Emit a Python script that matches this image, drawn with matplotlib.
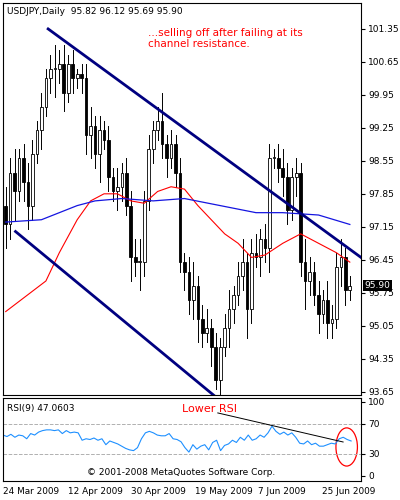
import matplotlib
matplotlib.use("Agg")
import matplotlib.pyplot as plt
from matplotlib.patches import Ellipse, Rectangle

closes = [97.2,98.3,97.9,98.6,98.1,97.6,98.7,99.2,99.7,100.3,100.5,100.5,100.6,100.0,100.6,100.3,100.4,
          100.3,99.1,99.3,98.7,99.2,99.0,98.2,97.9,98.0,98.3,97.6,96.5,96.4,96.4,97.7,98.8,99.2,99.4,98.9,98.6,
          98.9,98.3,96.4,96.2,95.6,95.9,95.2,94.9,95.0,94.6,93.9,94.6,95.0,95.4,95.7,96.1,96.4,95.4,96.6,96.5,
          96.9,96.7,98.6,98.6,98.4,98.2,97.5,98.2,98.3,96.4,96.0,96.2,95.7,95.3,95.6,95.1,95.2,96.3,96.5,95.8,95.9]
opens = [97.6] + closes[:-1]
up_wick = [0.4,0.3,0.5,0.2,0.3,0.4,0.3,0.2,0.3,0.2,0.3,0.5,0.3,0.4,0.2,0.3,0.1,0.2,0.3,0.4,0.2,0.3,0.2,
           0.3,0.2,0.4,0.2,0.3,0.3,0.4,0.5,0.2,0.3,0.2,0.3,0.6,0.2,0.3,0.2,0.3,0.2,0.3,0.5,0.2,0.3,0.4,0.2,0.3,
           0.2,0.3,0.4,0.2,0.3,0.5,0.2,0.3,0.4,0.2,0.3,0.3,0.2,0.3,0.4,0.3,0.2,0.3,0.2,0.5,0.3,0.2,0.3,0.2,0.4,
           0.3,0.3,0.4,0.2,0.2]
dn_wick = [0.5,0.3,0.6,0.2,0.4,0.5,0.3,0.2,0.4,0.2,0.3,0.6,0.3,0.4,0.2,0.3,0.2,0.3,0.4,0.5,0.3,0.6,0.2,
           0.3,0.2,0.4,0.3,0.2,0.5,0.3,0.6,0.3,0.2,0.3,0.2,0.3,0.4,0.2,0.3,0.2,0.4,0.3,0.4,0.5,0.3,0.2,0.4,0.2,
           0.3,0.2,0.4,0.3,0.2,0.3,0.6,0.3,0.2,0.4,0.3,0.5,0.2,0.3,0.4,0.3,0.2,0.4,0.3,0.6,0.3,0.2,0.4,0.2,0.3,
           0.3,0.2,0.4,0.3,0.2]

ma_fast_x = [0,9,12,16,19,22,25,28,31,34,37,40,43,46,49,52,55,58,62,66,70,74,77]
ma_fast = [95.35,96.0,96.6,97.3,97.7,97.85,97.85,97.7,97.65,97.9,98.0,97.95,97.6,97.3,97.0,96.8,96.5,96.55,96.8,97.0,96.8,96.6,96.4]
ma_slow_x = [0,8,16,20,26,33,40,48,56,62,70,77]
ma_slow = [97.25,97.3,97.6,97.7,97.75,97.7,97.75,97.6,97.45,97.45,97.4,97.2]

rsi = [55,53,56,52,55,54,50,57,55,59,61,62,62,61,62,57,61,58,59,58,48,50,49,51,48,50,42,47,45,43,40,37,35,34,
       38,50,58,60,58,55,54,54,57,50,49,46,38,32,42,36,40,42,35,45,48,34,41,43,48,45,52,48,55,48,50,55,52,58,
       67,60,56,59,55,58,52,44,43,47,42,44,40,40,42,44,43,50,52,49,47]

price_ticks = [101.35,100.65,99.95,99.25,98.55,97.85,97.15,96.45,95.75,95.05,94.35,93.65]
rsi_ticks = [100,70,30,0]
date_labels = ["24 Mar 2009","12 Apr 2009","30 Apr 2009","19 May 2009","7 Jun 2009","25 Jun 2009"]

n = len(closes)
fig = plt.figure(figsize=(4,5), dpi=100)
fig.patch.set_facecolor("white")
ax = fig.add_axes([0.0075, 0.21, 0.895, 0.784])
ax.set_xlim(-0.6, n + 1.5)
ax.set_ylim(93.58, 101.90)
for i,(o,c) in enumerate(zip(opens,closes)):
    hi = max(o,c)+up_wick[i]; lo = min(o,c)-dn_wick[i]
    ax.plot([i,i],[lo,hi],color="black",lw=0.7,zorder=2)
    face = "white" if c>=o else "black"
    ax.add_patch(Rectangle((i-0.3,min(o,c)),0.6,max(abs(c-o),0.03),facecolor=face,edgecolor="black",lw=0.6,zorder=3))
ax.plot(ma_fast_x, ma_fast, color="red", lw=0.8, zorder=4)
ax.plot(ma_slow_x, ma_slow, color="#1515e0", lw=0.9, zorder=4)
ax.plot([9.5, 79.5], [101.35, 96.5], color="#000080", lw=2, zorder=5)
ax.plot([2.2, 47.5], [97.05, 93.5], color="#000080", lw=2, zorder=5)
ax.set_xticks([]); ax.yaxis.tick_right()
ax.set_yticks(price_ticks)
ax.set_yticklabels([f"{t:.2f}" for t in price_ticks], fontsize=6.5)
ax.tick_params(axis="y", length=3, pad=2)
ax.text(0.01,0.99,"USDJPY,Daily  95.82 96.12 95.69 95.90",transform=ax.transAxes,fontsize=6.5,va="top")
ax.text(0.405,0.935,"...selling off after failing at its\nchannel resistance.",transform=ax.transAxes,
        color="red",fontsize=7.5,va="top",linespacing=1.1)
ax.text(1.01, 95.90, "95.90", transform=ax.get_yaxis_transform(), fontsize=6.5, color="white",
        va="center", ha="left", bbox=dict(facecolor="black", edgecolor="none", pad=0.8), zorder=10)

ax2 = fig.add_axes([0.0075, 0.038, 0.895, 0.166])
ax2.set_xlim(0, len(rsi)+1.5)
ax2.set_ylim(-7, 105)
ax2.plot(range(len(rsi)), rsi, color="#1e90ff", lw=0.8)
for lv in (70,30):
    ax2.axhline(lv, color="#b0b0b0", ls="--", lw=0.7)
ax2.set_xticks([]); ax2.yaxis.tick_right()
ax2.set_yticks(rsi_ticks); ax2.set_yticklabels([str(t) for t in rsi_ticks], fontsize=6.5)
ax2.tick_params(axis="y", length=3, pad=2)
ax2.text(0.01,0.93,"RSI(9) 47.0603",transform=ax2.transAxes,fontsize=6.5,va="top")
ax2.text(0.5,0.93,"Lower RSI",transform=ax2.transAxes,color="red",fontsize=8,va="top")
ax2.plot([0.6,0.95],[0.82,0.47],transform=ax2.transAxes,color="black",lw=0.7)
ax2.add_patch(Ellipse((0.96,0.41),0.06,0.46,transform=ax2.transAxes,fill=False,edgecolor="red",lw=0.9))
ax2.text(0.235,0.05,"© 2001-2008 MetaQuotes Software Corp.",transform=ax2.transAxes,fontsize=6.5,va="bottom")

for lab, xp in zip(date_labels, [3,68,131,195,258,322]):
    fig.text(xp/400, 1-491/500, lab, fontsize=6.4, va="center", ha="left")
fig.savefig("out.png", dpi=100, facecolor="white")
